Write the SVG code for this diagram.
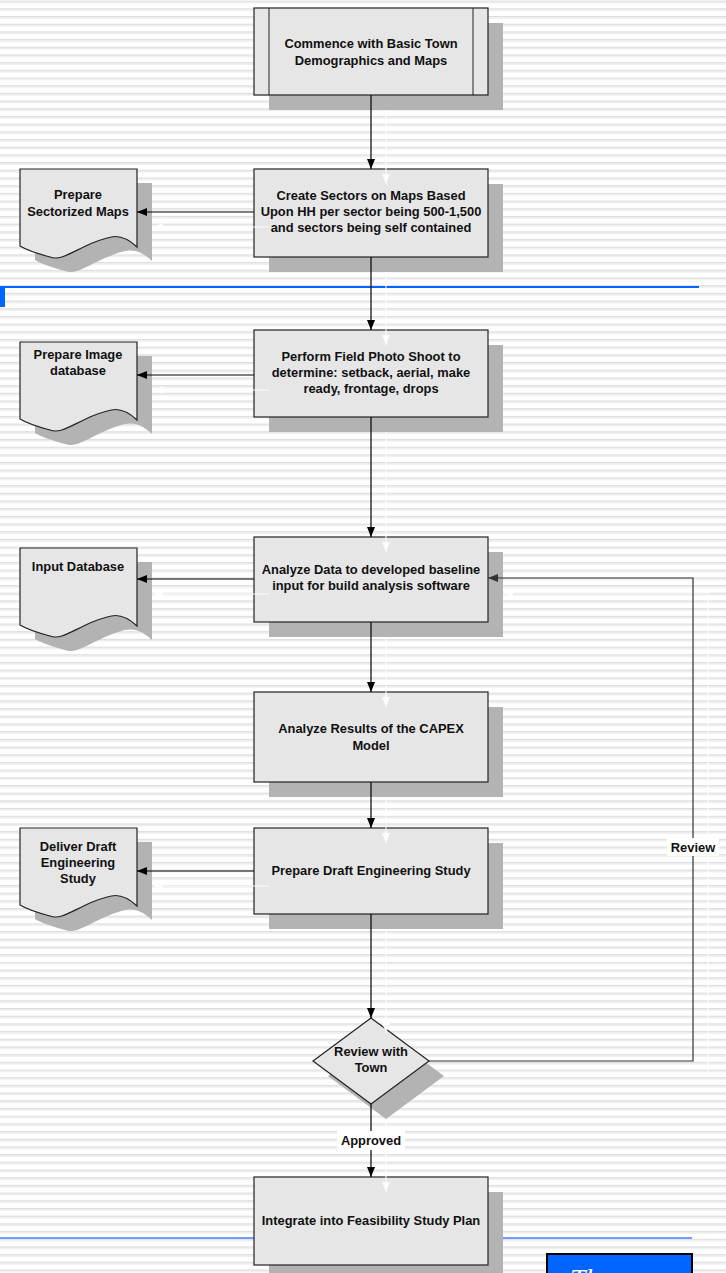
<svg xmlns="http://www.w3.org/2000/svg" width="726" height="1273" viewBox="0 0 726 1273">
<defs>
<pattern id="stripes" patternUnits="userSpaceOnUse" x="0" y="0.6" width="726" height="7.69">
<rect x="0" y="0" width="726" height="7.69" fill="#ffffff"/>
<rect x="0" y="0" width="726" height="1.4" fill="#dedede"/>
<rect x="0" y="1.4" width="726" height="1.2" fill="#ececec"/>
</pattern>
<marker id="ah" markerUnits="userSpaceOnUse" markerWidth="10" markerHeight="8" refX="10" refY="4" orient="auto">
<path d="M0,0 L10,4 L0,8 z" fill="#000"/>
</marker>
<marker id="ahg" markerUnits="userSpaceOnUse" markerWidth="10" markerHeight="8" refX="10" refY="4" orient="auto">
<path d="M0,0 L10,4 L0,8 z" fill="#333"/>
</marker>
<marker id="ahw" markerUnits="userSpaceOnUse" markerWidth="10" markerHeight="8" refX="10" refY="4" orient="auto">
<path d="M0,0 L10,4 L0,8 z" fill="#fff"/>
</marker>
<path id="doc" d="M0,0 H117 V78 C100,62 90,67 70,75 C50,84 40,92 30,88 C15,84 5,80 0,77 Z"/>
</defs>
<style>
.box{fill:#e6e6e6;stroke:#222;stroke-width:1.2}
.shd{fill:#b3b3b3}
.t{font-family:"Liberation Sans",Arial,sans-serif;font-weight:bold;font-size:12.9px;fill:#111;text-anchor:middle}
.c{fill:none;stroke:#000;stroke-width:1.2;marker-end:url(#ah)}
.cg{fill:none;stroke:#333;stroke-width:1.2;marker-end:url(#ahg)}
.gh{fill:none;stroke:#fff;stroke-width:1.2;marker-end:url(#ahw)}
.lbl{fill:#fff}
</style>
<rect x="0" y="0" width="726" height="1273" fill="url(#stripes)"/>
<g id="decor">
<rect x="0" y="286" width="699" height="2" fill="#0066ff"/>
<rect x="0" y="287" width="5" height="20" fill="#0066ff"/>
<rect x="0" y="1237" width="692" height="2" fill="#6f9dff"/>
</g>
<g id="n1">
<rect class="shd" x="269" y="23" width="234" height="87"/>
<rect class="box" x="254" y="8" width="234" height="87"/>
<line x1="269" y1="8" x2="269" y2="95" stroke="#222" stroke-width="1"/>
<line x1="473" y1="8" x2="473" y2="95" stroke="#222" stroke-width="1"/>
<text class="t" x="371" y="48">Commence with Basic Town</text>
<text class="t" x="371" y="65">Demographics and Maps</text>
</g>
<g id="n2">
<rect class="shd" x="269" y="184" width="234" height="88"/>
<rect class="box" x="254" y="169" width="234" height="88"/>
<text class="t" x="371" y="200">Create Sectors on Maps Based</text>
<text class="t" x="371" y="216">Upon HH per sector being 500-1,500</text>
<text class="t" x="371" y="232">and sectors being self contained</text>
</g>
<g id="d1">
<use href="#doc" class="shd" x="35" y="183"/>
<use href="#doc" class="box" x="20" y="169"/>
<text class="t" x="78" y="199">Prepare</text>
<text class="t" x="78" y="216">Sectorized Maps</text>
</g>
<g id="n3">
<rect class="shd" x="269" y="345" width="234" height="87"/>
<rect class="box" x="254" y="330" width="234" height="87"/>
<text class="t" x="371" y="361">Perform Field Photo Shoot to</text>
<text class="t" x="371" y="377">determine: setback, aerial, make</text>
<text class="t" x="371" y="393">ready, frontage, drops</text>
</g>
<g id="d2">
<use href="#doc" class="shd" x="35" y="356"/>
<use href="#doc" class="box" x="20" y="342"/>
<text class="t" x="78" y="359">Prepare Image</text>
<text class="t" x="78" y="375">database</text>
</g>
<g id="n4">
<rect class="shd" x="269" y="552" width="234" height="85"/>
<rect class="box" x="254" y="537" width="234" height="85"/>
<text class="t" x="371" y="574">Analyze Data to developed baseline</text>
<text class="t" x="371" y="590">input for build analysis software</text>
</g>
<g id="d3">
<use href="#doc" class="shd" x="35" y="562"/>
<use href="#doc" class="box" x="20" y="548"/>
<text class="t" x="78" y="571">Input Database</text>
</g>
<g id="n5">
<rect class="shd" x="269" y="707" width="234" height="90"/>
<rect class="box" x="254" y="692" width="234" height="90"/>
<text class="t" x="371" y="733">Analyze Results of the CAPEX</text>
<text class="t" x="371" y="750">Model</text>
</g>
<g id="n6">
<rect class="shd" x="269" y="843" width="234" height="86"/>
<rect class="box" x="254" y="828" width="234" height="86"/>
<text class="t" x="371" y="875">Prepare Draft Engineering Study</text>
</g>
<g id="d4">
<use href="#doc" class="shd" x="35" y="842"/>
<use href="#doc" class="box" x="20" y="828"/>
<text class="t" x="78" y="851">Deliver Draft</text>
<text class="t" x="78" y="867">Engineering</text>
<text class="t" x="78" y="883">Study</text>
</g>
<g id="n7">
<polygon class="shd" points="386,1033 444,1076 386,1119 328,1076"/>
<polygon class="box" points="371,1018 429,1061 371,1104 313,1061"/>
<text class="t" x="371" y="1056">Review with</text>
<text class="t" x="371" y="1072">Town</text>
</g>
<g id="n8">
<rect class="shd" x="269" y="1192" width="234" height="88"/>
<rect class="box" x="254" y="1177" width="234" height="88"/>
<text class="t" x="371" y="1225">Integrate into Feasibility Study Plan</text>
</g>
<g id="connector-shadows" opacity="0.9">
<path class="gh" d="M386,110 V184"/>
<path class="gh" d="M386,272 V345"/>
<path class="gh" d="M386,432 V552"/>
<path class="gh" d="M386,637 V707"/>
<path class="gh" d="M386,797 V843"/>
<path class="gh" d="M386,929 V1033"/>
<path class="gh" d="M386,1119 V1192"/>
<path class="gh" d="M269,227 H153"/>
<path class="gh" d="M269,390 H153"/>
<path class="gh" d="M269,594 H153"/>
<path class="gh" d="M269,886 H153"/>
<path class="gh" d="M444,1076 H708 V593 H503"/>
</g>
<g id="connectors">
<path class="c" d="M371,95 V169"/>
<path class="c" d="M371,257 V330"/>
<path class="c" d="M371,417 V537"/>
<path class="c" d="M371,622 V692"/>
<path class="c" d="M371,782 V828"/>
<path class="c" d="M371,914 V1018"/>
<path class="c" d="M371,1104 V1177"/>
<path class="c" d="M254,212 H137"/>
<path class="c" d="M254,375 H137"/>
<path class="c" d="M254,579 H137"/>
<path class="c" d="M254,871 H137"/>
<path class="cg" d="M429,1061 H693 V578 H488"/>
<rect class="lbl" x="667" y="838" width="52" height="18"/>
<text class="t" x="693" y="852">Review</text>
<rect class="lbl" x="337" y="1131" width="68" height="19"/>
<text class="t" x="371" y="1145">Approved</text>
</g>
<g id="bluebox">
<rect x="547" y="1254" width="145" height="30" fill="#0066ff" stroke="#000" stroke-width="2"/>
<text x="570" y="1288" font-family="Liberation Serif, serif" font-style="italic" font-size="28" fill="#fff">Th</text>
</g>
</svg>
